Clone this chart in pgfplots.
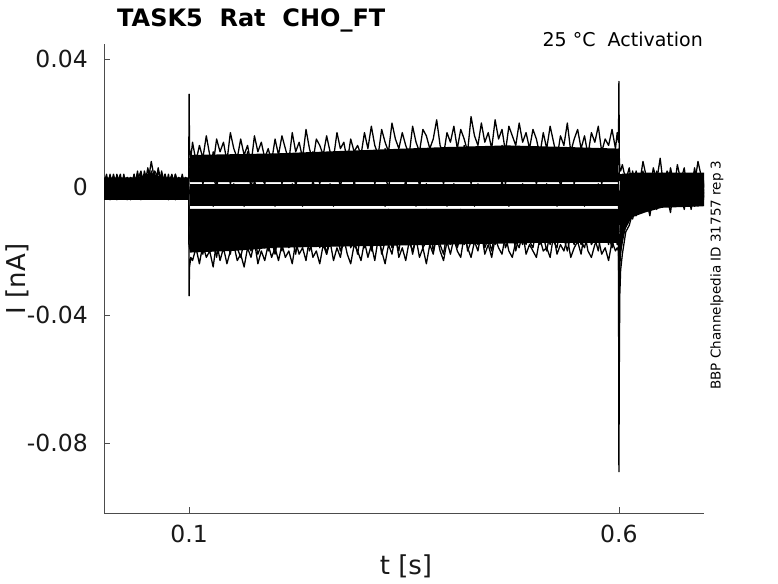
\documentclass[border=0pt]{standalone}
\usepackage{fontspec}
\setmainfont{DejaVu Sans}
\usepackage{pgfplots}
\usepackage{pgfplotstable}
\pgfplotsset{compat=1.18}
% t in ms, currents in units of 0.001 nA
\pgfplotstableread{
t a b c d e f g h
0 1 -2 3 0 -3 2 -1 -4
4 -3 2 -1 4 1 -2 3 0
8 3 -1 2 -3 -1 4 -4 2
12 -2 4 -3 1 3 -1 0 -3
16 4 0 1 -2 -4 3 2 -1
20 -1 -3 4 2 1 -2 -3 3
24 2 3 -2 -1 -2 1 4 -2
28 -4 1 3 3 2 -3 -1 1
32 3 -2 0 -4 -1 2 3 -3
36 0 4 -3 2 4 -1 -2 2
40 4 -1 2 -2 -3 5 1 -1
44 -2 3 5 1 2 -2 -4 4
48 5 0 -1 4 -2 3 2 -2
52 1 6 3 -1 4 0 -3 3
56 8 -1 2 5 -2 4 1 -1
60 2 5 -2 1 3 -3 4 2
64 -1 3 6 -2 0 5 -2 -3
68 4 -2 1 3 -3 2 5 1
72 -3 4 -1 -2 2 -1 0 4
76 3 0 4 1 -4 3 -3 -1
80 -2 3 -3 4 1 -2 2 3
84 4 -2 2 -1 -2 4 -4 0
88 0 3 -2 2 3 -1 1 -3
92 3 -3 4 -3 -1 2 -2 2
96 -2 2 -1 3 2 -3 3 -1
99.5 1 -1 2 0 -2 1 -1 0
100 29 8 4 -2 -12 -15 -18 -34
100.5 12 9 6 -1 -11 -16 -19 -25
102 9 6 2 -3 -13 -17 -20 -22
104 14 5 7 -4 -9 -17 -15 -23
108 8 10 2 0 -14 -12 -20 -19
112 13 4 6 -5 -10 -18 -16 -24
116 9 9 1 1 -15 -13 -21 -18
120 16 6 5 -3 -8 -16 -14 -22
124 10 3 8 -1 -13 -19 -19 -20
128 7 11 3 -6 -11 -12 -17 -25
132 15 5 0 2 -16 -15 -22 -17
136 11 8 6 -2 -9 -18 -15 -23
140 14 2 4 -4 -14 -11 -20 -19
144 8 10 7 0 -12 -17 -16 -24
148 17 6 1 -5 -10 -14 -21 -20
152 12 4 5 1 -15 -19 -14 -18
156 9 9 3 -3 -8 -13 -19 -23
160 15 7 8 -1 -13 -16 -22 -21
164 10 3 2 -6 -11 -12 -17 -25
168 13 11 6 0 -16 -18 -15 -19
172 7 5 0 -4 -9 -15 -20 -22
176 16 8 5 2 -14 -11 -16 -17
180 11 4 7 -2 -12 -17 -21 -24
184 14 10 3 -5 -10 -14 -18 -20
188 9 6 1 1 -15 -19 -14 -23
192 12 2 6 -3 -11 -13 -20 -18
196 8 9 4 -1 -13 -16 -17 -22
200 15 7 2 -6 -9 -12 -21 -19
204 10 4 7 0 -14 -17 -15 -23
208 16 9 1 -4 -10 -11 -20 -18
212 12 5 5 -2 -15 -16 -13 -22
216 8 10 3 -5 -11 -13 -19 -20
220 17 3 8 1 -13 -18 -16 -24
224 11 8 0 -3 -8 -10 -21 -17
228 14 6 6 -1 -16 -15 -14 -21
232 9 2 4 -6 -12 -12 -18 -19
236 18 9 2 0 -10 -17 -15 -23
240 12 5 7 -4 -14 -14 -20 -16
244 8 11 3 2 -11 -11 -17 -22
248 15 4 5 -2 -15 -16 -13 -20
252 13 7 1 -5 -9 -13 -19 -24
256 10 10 6 -1 -13 -18 -16 -18
260 16 3 4 -3 -12 -10 -21 -21
264 11 8 8 1 -16 -15 -14 -17
268 9 6 2 -6 -10 -12 -18 -23
272 17 2 5 -2 -14 -17 -15 -19
276 12 9 0 0 -11 -14 -20 -22
280 14 5 6 -4 -15 -11 -17 -16
284 8 11 3 -1 -8 -16 -13 -21
288 15 4 7 -5 -13 -13 -19 -24
292 11 7 1 2 -12 -18 -16 -18
296 13 10 5 -3 -9 -12 -21 -20
300 10 6 3 -2 -14 -15 -14 -23
304 17 9 6 -5 -8 -17 -19 -17
308 12 4 2 0 -13 -11 -14 -22
312 19 11 7 -3 -10 -16 -20 -18
316 13 6 1 1 -15 -13 -16 -23
320 10 8 5 -4 -9 -18 -13 -16
324 18 3 8 -1 -14 -12 -21 -20
328 14 12 3 -6 -11 -15 -17 -24
332 11 7 0 -2 -7 -10 -14 -18
336 20 5 6 0 -13 -17 -19 -21
340 15 10 4 -5 -15 -14 -16 -15
344 12 4 2 -1 -10 -11 -20 -22
348 17 9 7 -3 -12 -16 -13 -19
352 13 6 1 2 -8 -13 -18 -23
356 10 11 5 -4 -14 -18 -15 -17
360 19 5 3 -2 -11 -12 -21 -20
364 14 8 8 -6 -9 -15 -16 -16
368 11 3 0 0 -15 -10 -14 -22
372 18 10 6 -3 -12 -17 -19 -19
376 16 7 4 1 -7 -14 -17 -24
380 12 12 2 -5 -13 -11 -13 -18
384 15 5 7 -1 -10 -16 -20 -21
388 21 8 3 -4 -14 -13 -15 -15
392 13 4 5 -2 -11 -18 -18 -20
396 10 9 1 0 -8 -12 -21 -23
400 17 6 6 -6 -13 -15 -14 -17
404 14 11 3 -3 -9 -17 -18 -21
408 19 6 8 1 -14 -11 -13 -16
412 12 10 2 -4 -11 -16 -19 -20
416 18 5 7 -1 -7 -13 -15 -22
420 15 13 4 -5 -13 -18 -12 -15
424 11 8 9 0 -10 -12 -20 -19
428 22 6 1 -2 -15 -15 -17 -22
432 16 12 6 -6 -12 -10 -14 -17
436 13 7 3 1 -8 -17 -18 -20
440 20 5 8 -3 -14 -14 -13 -14
444 14 10 2 -1 -11 -11 -19 -21
448 17 4 6 -5 -9 -16 -16 -18
452 12 11 5 0 -15 -13 -20 -22
456 21 8 9 -2 -12 -18 -14 -16
460 15 6 3 -4 -10 -12 -17 -19
464 18 13 7 2 -13 -15 -12 -21
468 11 9 1 -3 -8 -10 -19 -15
472 19 5 6 -6 -14 -17 -16 -20
476 16 10 4 0 -11 -14 -13 -22
480 13 7 8 -2 -9 -11 -20 -17
484 20 12 2 -5 -15 -16 -15 -19
488 14 6 5 1 -12 -13 -18 -14
492 17 9 9 -1 -10 -18 -14 -21
496 12 5 3 -4 -13 -12 -17 -18
500 18 11 6 -3 -8 -15 -19 -20
504 15 7 1 0 -14 -17 -13 -22
508 10 12 5 -5 -11 -11 -18 -16
512 17 4 7 -2 -9 -16 -15 -20
516 12 9 2 1 -15 -13 -20 -19
520 19 6 6 -4 -12 -18 -14 -22
524 14 10 3 -1 -8 -12 -17 -15
528 9 5 8 -6 -13 -15 -19 -21
532 16 11 0 -3 -10 -10 -12 -18
536 13 4 5 0 -14 -17 -16 -20
540 20 8 4 -5 -11 -14 -20 -16
544 11 12 7 -2 -9 -11 -15 -22
548 15 6 1 1 -15 -16 -18 -19
552 18 9 6 -4 -12 -13 -13 -17
556 12 3 3 -1 -8 -18 -17 -21
560 16 10 8 -6 -13 -12 -19 -14
564 10 7 2 0 -11 -15 -14 -20
568 17 5 5 -3 -14 -17 -18 -22
572 14 11 4 -2 -10 -11 -16 -18
576 19 6 7 1 -12 -14 -20 -16
580 11 9 1 -5 -9 -16 -13 -21
584 15 4 6 -1 -15 -13 -17 -19
588 13 10 3 -4 -11 -18 -15 -23
592 18 7 8 0 -13 -12 -19 -17
596 12 5 2 -3 -10 -15 -14 -20
598 17 9 5 -2 -12 -14 -18 -19
599.5 14 7 4 -2 -11 -15 -16 -20
600 33 12 -8 -14 -26 -32 -42 -89
600.5 9 4 -4 -9 -20 -26 -32 -55
601 6 2 -2 -7 -16 -20 -25 -34
602 5 3 -1 -5 -13 -17 -20 -26
604 7 -1 4 -3 -11 -14 -17 -21
608 2 4 -2 1 -8 -9 -12 -14
612 6 0 3 -4 -5 -8 -9 -12
616 -1 5 -1 2 -7 -4 -10 -8
620 5 -2 4 -3 -2 -7 -5 -9
624 1 3 0 3 -6 -3 -8 -5
628 8 -1 5 -2 0 -6 -3 -8
632 3 4 -3 1 -4 1 -7 -4
636 -2 2 2 4 -1 -4 -2 -9
640 6 -3 -1 -1 2 -2 -6 -2
644 2 5 4 2 -5 0 -1 -7
648 9 0 -2 -4 -2 -5 -5 -1
652 0 3 3 3 1 -1 -3 -6
656 5 -2 0 -2 -6 -4 2 -3
660 3 6 5 1 -3 2 -6 -8
664 -1 1 -1 4 0 -3 -2 0
668 7 -1 2 -3 -4 -6 1 -5
672 2 4 -3 0 2 0 -5 -2
676 6 0 4 -2 -5 -3 -1 -7
680 -2 3 1 3 -1 1 -4 -1
684 4 -2 -2 -1 -7 -5 0 -4
688 1 5 6 2 -2 -1 -3 -6
692 8 1 0 -4 1 -4 -6 1
696 3 -3 3 1 -3 0 -1 -5
700 0 2 -1 -2 -1 -3 -4 -2
}\traces

\begin{document}
\begin{tikzpicture}
\useasboundingbox (0,0) rectangle (778pt,583pt);
\begin{axis}[
  at={(104pt,70pt)}, anchor=south west,
  scale only axis, width=600pt, height=469pt,
  xmin=1, xmax=699, ymin=-101.9, ymax=44.7,
  axis lines*=left,
  axis line style={black!70, line width=0.7pt},
  tick align=inside,
  major tick length=6pt,
  tick style={black!70, line width=0.7pt},
  xtick={100,600}, xticklabels={0.1,0.6},
  ytick={-80,-40,0,40}, yticklabels={-0.08,-0.04,0,0.04},
  ticklabel style={font=\fontsize{23.5}{28}\selectfont, text=black!90},
  xticklabel style={anchor=base, inner sep=0pt, yshift=-29pt},
  yticklabel style={anchor=east, inner sep=0pt, xshift=-16pt},
  trace/.style={black, line width=1.3pt, line join=round, mark=none},
  band/.style={fill=black, draw=none, mark=none},
]
% dense envelopes where the many overlapping sweeps merge
\addplot[band] coordinates {(0,3) (40,3) (55,4.5) (70,3) (99.5,3) (99.5,-4) (0,-4)} -- cycle;
\addplot[band] coordinates {(100.5,1.5) (100.5,10) (200,10.5) (300,11.5) (400,12.5) (470,13) (540,12.5) (599.5,12) (599.5,1.5)} -- cycle;
\addplot[band] coordinates {(100.5,0.8) (599.5,0.8) (599.5,-6) (100.5,-6)} -- cycle;
\addplot[band] coordinates {(100.5,-6.8) (599.5,-6.8) (599.5,-17.5) (500,-17.5) (400,-18) (300,-18.5) (200,-19) (150,-20) (100.5,-20.5)} -- cycle;
\addplot[band] coordinates {(601,4) (620,4.5) (700,4.5) (700,-6) (650,-6.5) (630,-8) (615,-9.5) (606,-14) (601,-24)} -- cycle;
\addplot[trace] table[x=t,y=a]{\traces};
\addplot[trace] table[x=t,y=b]{\traces};
\addplot[trace] table[x=t,y=c]{\traces};
\addplot[trace] table[x=t,y=d]{\traces};
\addplot[trace] table[x=t,y=e]{\traces};
\addplot[trace] table[x=t,y=f]{\traces};
\addplot[trace] table[x=t,y=g]{\traces};
\addplot[trace] table[x=t,y=h]{\traces};
\end{axis}
\node[anchor=base west, inner sep=0pt, font=\bfseries\fontsize{24}{28}\selectfont] at (117pt,556pt) {TASK5\ \ Rat\ \ CHO\_FT};
\node[anchor=base east, inner sep=0pt, font=\fontsize{19}{22}\selectfont] at (703pt,536pt) {25 °C\ \ Activation};
\node[rotate=90, inner sep=0pt, font=\fontsize{13.5}{16}\selectfont] at (717pt,308pt) {BBP Channelpedia ID 31757 rep 3};
\node[rotate=90, inner sep=0pt, font=\fontsize{26}{30}\selectfont, text=black!90] at (17pt,304pt) {I [nA]};
\node[anchor=base, inner sep=0pt, font=\fontsize{26}{30}\selectfont, text=black!90] at (406pt,8.5pt) {t [s]};
\end{tikzpicture}
\end{document}
